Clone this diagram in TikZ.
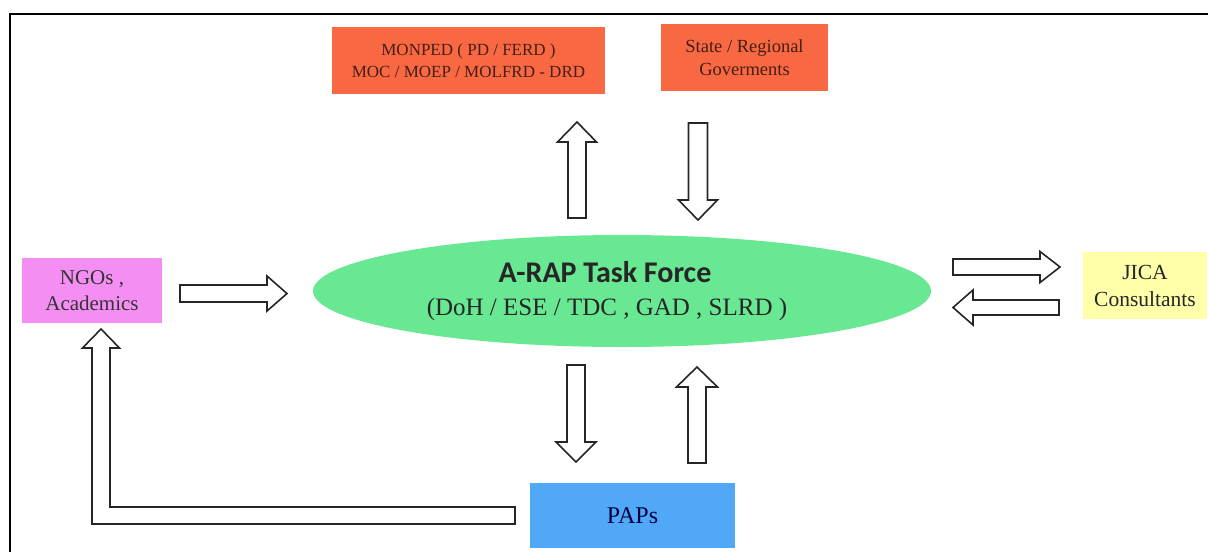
\documentclass[tikz,border=0pt]{standalone}
\usepackage{fontspec}
\setmainfont{Liberation Serif}
\newfontfamily\carlito{Carlito}
\usetikzlibrary{calc,shapes.geometric}

\definecolor{ministry}{RGB}{248,104,66}
\definecolor{ngopink}{RGB}{244,142,242}
\definecolor{papblue}{RGB}{80,168,246}
\definecolor{taskgreen}{RGB}{104,232,146}
\definecolor{jicayellow}{RGB}{255,255,170}
\definecolor{inkbrown}{RGB}{70,30,20}

\tikzset{
	orgbox/.style={rectangle, fill=#1, inner sep=0pt, align=center, text=inkbrown},
	arrline/.style={draw=black!85, line width=1.6pt, fill=white, line join=miter},
}

% hollow block arrow: from, to, shaft half width, head half width
\newcommand{\blockarrow}[4]{%
	\coordinate (ba-base) at ($(#2)!20pt!(#1)$);
	\draw[arrline] ($(#1)!#3!90:(#2)$) -- ($(ba-base)!#3!90:(#2)$) -- ($(ba-base)!#4!90:(#2)$)
		-- (#2) -- ($(ba-base)!#4!-90:(#2)$) -- ($(ba-base)!#3!-90:(#2)$) -- ($(#1)!#3!-90:(#2)$) -- cycle;
}

\begin{document}
\begin{tikzpicture}[x=1pt,y=-1pt]
	\useasboundingbox (0,0) rectangle (1208,552);
	\draw[line width=2pt] (1208,14) -- (10,14) -- (10,552);
	
	\node[orgbox=ministry, minimum width=273pt, minimum height=67pt, font=\fontsize{17}{22}\selectfont] (mon) at (468.5,60.5) {MONPED ( PD / FERD )\\MOC / MOEP / MOLFRD - DRD};
	\node[orgbox=ministry, minimum width=167pt, minimum height=67pt, font=\fontsize{18.5}{23}\selectfont] (state) at (744.5,57.5) {State / Regional\\Goverments};
	\node[orgbox=ngopink, minimum width=140pt, minimum height=65pt, font=\fontsize{21}{26}\selectfont, text=black!80] (ngo) at (92,290.5) {NGOs ,\\Academics};
	\node[orgbox=jicayellow, minimum width=124pt, minimum height=67pt, font=\fontsize{21.5}{27}\selectfont, text=black!85] (jica) at (1145,285.5) {JICA\\Consultants};
	\node[orgbox=papblue, minimum width=205pt, minimum height=65pt, font=\fontsize{24}{26}\selectfont, text=black!75!blue] (pap) at (632.5,515.5) {PAPs};
	\node[ellipse, fill=taskgreen, minimum width=618pt, minimum height=112pt, inner sep=0pt, align=center, font=\fontsize{25}{33}\selectfont, text=black!85] (task) at (622,291)
		{{\carlito\bfseries\fontsize{30}{33}\selectfont A-RAP Task Force}\hspace*{34pt}\\(DoH / ESE / TDC , GAD , SLRD )\hspace*{30pt}};
	
	\coordinate (up1s) at (577,218); \coordinate (up1e) at (577,122);
	\coordinate (dn1s) at (698,123); \coordinate (dn1e) at (698,220);
	\coordinate (dn2s) at (576,365); \coordinate (dn2e) at (576,462);
	\coordinate (up2s) at (697,463); \coordinate (up2e) at (697,367);
	\coordinate (ngos) at (180,293.5); \coordinate (ngoe) at (287,293.5);
	\coordinate (jics) at (953,267); \coordinate (jice) at (1060,267);
	\coordinate (jbs) at (1059,307.5); \coordinate (jbe) at (953,307.5);
	
	\blockarrow{up1s}{up1e}{9pt}{19.5pt}
	\blockarrow{dn1s}{dn1e}{9.5pt}{19.5pt}
	\blockarrow{dn2s}{dn2e}{9pt}{20pt}
	\blockarrow{up2s}{up2e}{9pt}{20.5pt}
	\blockarrow{ngos}{ngoe}{8.5pt}{17.5pt}
	\blockarrow{jics}{jice}{8pt}{15.5pt}
	\blockarrow{jbs}{jbe}{7.5pt}{17.5pt}
	
	% PAPs back to NGOs
	\coordinate (lto) at (101,329);
	\draw[arrline] (515,507) -- (110,507) -- (110,348) -- (119.5,348) -- (lto) -- (82.5,348) -- (92,348) -- (92,524) -- (515,524) -- cycle;
\end{tikzpicture}
\end{document}
